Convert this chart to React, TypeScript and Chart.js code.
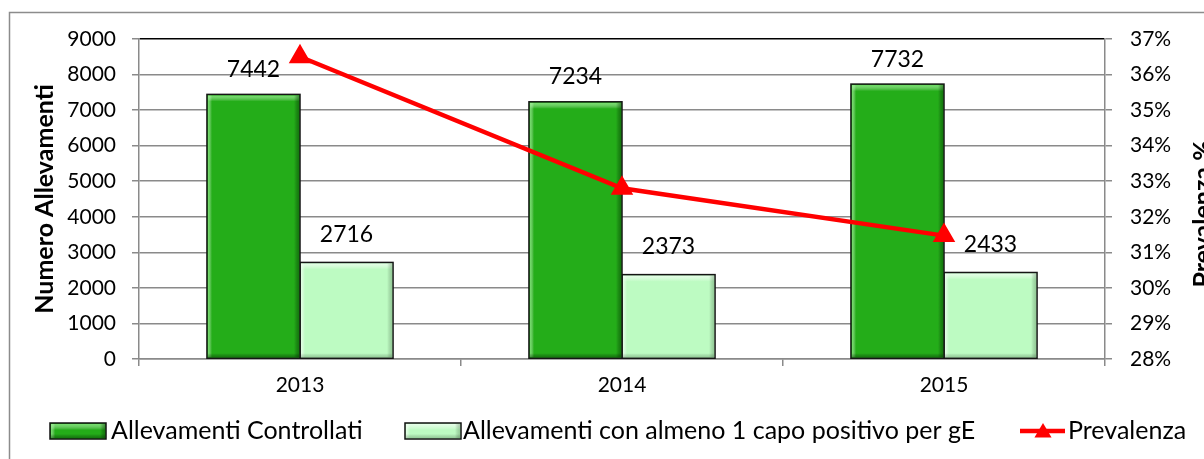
import React, { useEffect, useRef } from "react";
import { Chart, registerables } from "chart.js";
Chart.register(...registerables);

const years = ["2013", "2014", "2015"];
const controllati = [7442, 7234, 7732];
const positivi = [2716, 2373, 2433];
const prevalenza = [36.5, 32.8, 31.47];
const seriesNames = [
  "Allevamenti Controllati",
  "Allevamenti con almeno 1 capo positivo per gE",
  "Prevalenza",
];
const leftTitle = "Numero Allevamenti";
const rightTitle = "Prevalenza %";
const leftMin = 0;
const leftMax = 9000;
const leftStep = 1000;
const rightMin = 28;
const rightMax = 37;
const rightStep = 1;

const FONT = "Lato, 'Open Sans', sans-serif";
const GREEN = "#24ad19";
const LIGHT = "#bdfbc2";
const RED = "#ff0000";
const GRID = "#8a8a8a";

function drawTriangle(ctx: CanvasRenderingContext2D, x: number, y: number, r: number) {
  ctx.beginPath();
  ctx.moveTo(x, y - r);
  ctx.lineTo(x + r * 0.95, y + r * 0.6);
  ctx.lineTo(x - r * 0.95, y + r * 0.6);
  ctx.closePath();
  ctx.fill();
}

function bevel(ctx: CanvasRenderingContext2D, l: number, t: number, r: number, b: number, light: string, dark: string) {
  const w = r - l;
  const h = b - t;
  let g = ctx.createLinearGradient(0, t, 0, t + 7);
  g.addColorStop(0, light);
  g.addColorStop(1, "rgba(255,255,255,0)");
  ctx.fillStyle = g;
  ctx.fillRect(l + 1, t + 1, w - 2, 7);
  g = ctx.createLinearGradient(l, 0, l + 5, 0);
  g.addColorStop(0, light);
  g.addColorStop(1, "rgba(255,255,255,0)");
  ctx.fillStyle = g;
  ctx.fillRect(l + 1, t + 1, 5, h - 2);
  g = ctx.createLinearGradient(r, 0, r - 6, 0);
  g.addColorStop(0, dark);
  g.addColorStop(1, "rgba(0,0,0,0)");
  ctx.fillStyle = g;
  ctx.fillRect(r - 7, t + 1, 6, h - 2);
  g = ctx.createLinearGradient(0, b, 0, b - 5);
  g.addColorStop(0, dark);
  g.addColorStop(1, "rgba(0,0,0,0)");
  ctx.fillStyle = g;
  ctx.fillRect(l + 1, b - 6, w - 2, 5);
}

const overlay = {
  id: "overlay",
  afterDatasetDraw(chart: any, args: any) {
    if (args.index > 1) return;
    const ctx = chart.ctx as CanvasRenderingContext2D;
    const meta = chart.getDatasetMeta(args.index);
    ctx.save();
    meta.data.forEach((el: any) => {
      const l = el.x - el.width / 2;
      const r = el.x + el.width / 2;
      const t = el.y;
      const b = el.base;
      if (args.index === 0) bevel(ctx, l, t, r, b, "rgba(120,235,110,0.9)", "rgba(0,70,0,0.55)");
      else bevel(ctx, l, t, r, b, "rgba(240,255,242,0.9)", "rgba(60,110,60,0.35)");
      ctx.strokeStyle = "#151515";
      ctx.lineWidth = 1.5;
      ctx.strokeRect(l, t, r - l, b - t);
    });
    ctx.restore();
  },
  afterDatasetsDraw(chart: any) {
    const ctx = chart.ctx as CanvasRenderingContext2D;
    ctx.save();
    ctx.fillStyle = "#000";
    ctx.font = `23px ${FONT}`;
    ctx.textAlign = "center";
    ctx.textBaseline = "middle";
    [0, 1].forEach((di) => {
      const meta = chart.getDatasetMeta(di);
      const vals = di === 0 ? controllati : positivi;
      meta.data.forEach((el: any, i: number) => {
        ctx.fillText(String(vals[i]), el.x, el.y - (di === 0 ? 25 : 28));
      });
    });
    ctx.restore();
  },
  afterDraw(chart: any) {
    const ctx = chart.ctx as CanvasRenderingContext2D;
    const ca = chart.chartArea;
    ctx.save();
    // outer frame
    ctx.strokeStyle = "#8c8c8c";
    ctx.lineWidth = 1.5;
    ctx.strokeRect(9.5, 12.5, 1400, 600);
    // axis titles
    ctx.fillStyle = "#000";
    ctx.textAlign = "center";
    ctx.textBaseline = "middle";
    const cy = (ca.top + ca.bottom) / 2;
    ctx.save();
    ctx.font = `bold 25px ${FONT}`;
    ctx.translate(45, cy);
    ctx.rotate(-Math.PI / 2);
    ctx.fillText(leftTitle, 0, 0);
    ctx.restore();
    ctx.save();
    ctx.font = `bold 25px ${FONT}`;
    ctx.translate(1203, cy + 15);
    ctx.rotate(-Math.PI / 2);
    ctx.fillText(rightTitle, 0, 0);
    ctx.restore();
    // legend
    const ly = 431;
    ctx.font = `25px ${FONT}`;
    ctx.textAlign = "left";
    ctx.textBaseline = "middle";
    const box = (x: number, color: string, light: string, dark: string) => {
      ctx.fillStyle = color;
      ctx.fillRect(x, ly - 8, 56, 16);
      bevel(ctx, x, ly - 8, x + 56, ly + 8, light, dark);
      ctx.strokeStyle = "#111";
      ctx.lineWidth = 1.5;
      ctx.strokeRect(x, ly - 8, 56, 16);
    };
    box(50, GREEN, "rgba(120,235,110,0.9)", "rgba(0,70,0,0.55)");
    ctx.fillStyle = "#000";
    ctx.fillText(seriesNames[0], 111, ly);
    box(405, LIGHT, "rgba(240,255,242,0.9)", "rgba(60,110,60,0.35)");
    ctx.fillStyle = "#000";
    ctx.fillText(seriesNames[1], 463, ly);
    ctx.strokeStyle = RED;
    ctx.lineWidth = 4.5;
    ctx.beginPath();
    ctx.moveTo(1020, ly);
    ctx.lineTo(1065, ly);
    ctx.stroke();
    ctx.fillStyle = RED;
    drawTriangle(ctx, 1043, ly + 1, 9);
    ctx.fillStyle = "#000";
    ctx.fillText(seriesNames[2], 1068, ly);
    ctx.restore();
  },
};

export default function App() {
  const ref = useRef<HTMLCanvasElement | null>(null);
  useEffect(() => {
    if (!ref.current) return;
    const chart = new Chart(ref.current, {
      type: "bar",
      data: {
        labels: years,
        datasets: [
          {
            type: "bar",
            label: seriesNames[0],
            data: controllati,
            backgroundColor: GREEN,
            borderWidth: 0,
            yAxisID: "y",
            order: 1,
            categoryPercentage: 0.578,
            barPercentage: 1,
          },
          {
            type: "bar",
            label: seriesNames[1],
            data: positivi,
            backgroundColor: LIGHT,
            borderWidth: 0,
            yAxisID: "y",
            order: 1,
            categoryPercentage: 0.578,
            barPercentage: 1,
          },
          {
            type: "line",
            label: seriesNames[2],
            data: prevalenza,
            borderColor: RED,
            backgroundColor: RED,
            borderWidth: 4.5,
            pointStyle: "triangle",
            pointRadius: 8.5,
            pointBackgroundColor: RED,
            pointBorderColor: RED,
            yAxisID: "y1",
            order: 0,
          } as any,
        ],
      },
      options: {
        animation: false,
        responsive: false,
        maintainAspectRatio: false,
        layout: { padding: { top: 39, left: 0, right: 0, bottom: 0 } },
        plugins: { legend: { display: false }, tooltip: { enabled: false } },
        scales: {
          x: {
            grid: {
              offset: true,
              drawOnChartArea: false,
              drawTicks: true,
              tickLength: 7,
              color: GRID,
              lineWidth: 1.5,
            },
            border: { color: GRID, width: 1.5 },
            ticks: { color: "#000", font: { family: FONT, size: 21 }, padding: 7 },
            afterFit: (s: any) => {
              s.height = 100;
            },
          },
          y: {
            position: "left",
            min: leftMin,
            max: leftMax,
            ticks: {
              stepSize: leftStep,
              color: "#000",
              font: { family: FONT, size: 21 },
              padding: 16,
              callback: (v: any) => String(v),
            },
            grid: {
              color: (c: any) => (c.tick && c.tick.value === leftMax ? "#000" : GRID),
              tickColor: GRID,
              lineWidth: 1.5,
              tickLength: 7,
            },
            border: { color: GRID, width: 1.5 },
            afterFit: (s: any) => {
              s.width = 139;
            },
          },
          y1: {
            position: "right",
            min: rightMin,
            max: rightMax,
            ticks: {
              stepSize: rightStep,
              color: "#000",
              font: { family: FONT, size: 21 },
              padding: 18,
              callback: (v: any) => `${v}%`,
            },
            grid: {
              drawOnChartArea: false,
              tickLength: 7,
              color: GRID,
              lineWidth: 1.5,
            },
            border: { color: GRID, width: 1.5 },
            afterFit: (s: any) => {
              s.width = 99;
            },
          },
        },
      },
      plugins: [overlay],
    });
    return () => chart.destroy();
  }, []);
  return (
    <div style={{ position: "absolute", left: 0, top: 0, width: 1204, height: 459, background: "#fff" }}>
      <canvas ref={ref} width={1204} height={459} />
    </div>
  );
}
